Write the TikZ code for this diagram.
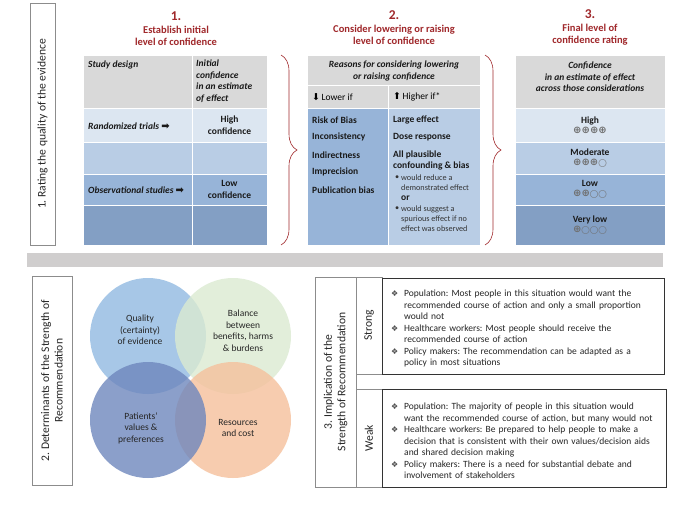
\documentclass[tikz,border=0pt]{standalone}
\usepackage{fontspec}
\setmainfont{Carlito}
\newfontfamily\symfont{DejaVu Sans}
\usetikzlibrary{positioning, calc, decorations.pathreplacing}
\definecolor{titlered}{HTML}{A0282B}
\definecolor{hdrgray}{HTML}{D9D9D9}
\definecolor{blueA}{HTML}{DCE6F1}
\definecolor{blueB}{HTML}{B9CDE5}
\definecolor{blueC}{HTML}{97B4D8}
\definecolor{blueD}{HTML}{839FC4}
\definecolor{framegray}{HTML}{8C8C8C}
\definecolor{bargray}{HTML}{D0CECE}
\definecolor{vennblue}{HTML}{91BAE2}
\definecolor{venngreen}{HTML}{DBEAD1}
\definecolor{venndark}{HTML}{6E87BD}
\definecolor{vennorange}{HTML}{F5C09C}
\definecolor{dotgray}{HTML}{6F6F6F}
\frenchspacing
\newcommand{\tabfont}{\fontsize{9.5}{11.5}\selectfont}
\newcommand{\ttlfont}{\fontsize{10.5}{11.8}\selectfont}
\newcommand{\sidefont}{\fontsize{11.6}{13.5}\selectfont}
\newcommand{\smallfont}{\fontsize{8.2}{10}\selectfont}
\newcommand{\rarr}{{\symfont\fontsize{10}{10}\selectfont ➡}}
\newcommand{\op}{{\fontsize{10}{10}\selectfont ⊕}}
\newcommand{\oc}{{\fontsize{7.6}{10}\selectfont ◯}}
\newcommand{\grd}[1]{{\color{dotgray}\symfont #1}}
\newcommand{\itm}{\par\hangindent=13pt\hangafter=1\noindent\makebox[13pt][l]{\color{black!70}\symfont\fontsize{8}{8}\selectfont ❖}}
\tikzset{
  cell/.style={draw=white, line width=1pt, inner sep=0pt, outer sep=0pt, anchor=north west},
  sidebox/.style={draw=framegray, line width=0.8pt, fill=white, inner sep=0pt, outer sep=0pt, anchor=north west},
  sidetxt/.style={rotate=90, align=center, font=\sidefont, text=black!85},
  txtbox/.style={draw=black!80, line width=1pt, inner sep=0pt, outer sep=0pt, anchor=north west},
  ttlnum/.style={text=titlered, font=\bfseries\fontsize{13.5}{15}\selectfont, inner sep=0pt},
  ttl/.style={text=titlered, font=\bfseries\ttlfont, align=center, inner sep=0pt},
  hd/.style={font=\bfseries\itshape\tabfont, text=black!90, inner sep=0pt},
  bd/.style={font=\bfseries\tabfont, text=black!90, inner sep=0pt},
  sm/.style={font=\smallfont, text=black!80, inner sep=0pt, anchor=west},
  redbrace/.style={decorate, decoration={brace, amplitude=16pt}, draw=titlered, line width=0.6pt},
  venn/.style={circle, minimum size=116, inner sep=0pt, fill opacity=0.8},
  venntxt/.style={align=center, font=\tabfont, text=black!85, inner sep=0pt},
  bullettxt/.style={anchor=north west, text width=274, align=left, inner sep=0pt, font=\tabfont, text=black!85}
}

\begin{document}
\begin{tikzpicture}[x=1pt, y=-1pt]
  \path[use as bounding box, fill=white] (0,0) rectangle (694,506);

  % part 1: rating the quality
  \node[sidebox, minimum width=25, minimum height=242] (rating) at (30,3) {};
  \node[sidetxt] at (rating.center) {1. Rating the quality of the evidence};

  \node[ttlnum] (num1) at (176,16) {1.};
  \node[ttl, below=5pt of num1] (ttl1) {Establish initial\\level of confidence};
  \node[ttlnum] (num2) at (394,15) {2.};
  \node[ttl, below=5pt of num2] (ttl2) {Consider lowering or raising\\level of confidence};
  \node[ttlnum] (num3) at (590,14) {3.};
  \node[ttl, below=5pt of num3] (ttl3) {Final level of\\confidence rating};

  % tables 1 and 3
  \foreach \r/\y/\h/\col in {h/55/53/hdrgray, a/108/34/blueA, b/142/32/blueB, c/174/31/blueC, d/205/40/blueD} {
    \node[cell, fill=\col, minimum width=109, minimum height=\h] (t1a\r) at (83,\y) {};
    \node[cell, fill=\col, minimum width=75, minimum height=\h] (t1b\r) at (192,\y) {};
    \node[cell, fill=\col, minimum width=150, minimum height=\h] (t3\r) at (515,\y) {};
  }
  \node[hd, anchor=west] (sdes) at (88,65) {Study design};
  \node[hd, anchor=north west, align=left] (initc) at (196,60) {Initial\\confidence\\in an estimate\\of effect};
  \node[hd, anchor=west] (rtri) at (88,126) {Randomized trials \rarr};
  \node[bd, align=center] (hconf) at (t1ba.center) {High\\confidence};
  \node[hd, anchor=west] (obst) at (88,190) {Observational studies \rarr};
  \node[bd, align=center] (lconf) at (t1bc.center) {Low\\confidence};

  \node[hd, align=center] (conf) at (590,77) {Confidence\\in an estimate of effect\\across those considerations};
  \foreach \r/\t/\s in {a/High/\op\op\op\op, b/Moderate/\op\op\op\oc, c/Low/\op\op\oc\oc, d/Very low/\op\oc\oc\oc}
    \node[bd, align=center] (lev\r) at (t3\r.center) {\t\\[-1pt]\grd{\s}};

  % table 2
  \node[cell, fill=hdrgray, minimum width=173, minimum height=30] (t2h) at (307,55) {};
  \node[cell, fill=hdrgray, minimum width=81, minimum height=23] (t2la) at (307,85) {};
  \node[cell, fill=hdrgray, minimum width=92, minimum height=23] (t2ha) at (388,85) {};
  \node[cell, fill=blueC, minimum width=81, minimum height=137] (t2lb) at (307,108) {};
  \node[cell, fill=blueB, minimum width=92, minimum height=137] (t2hb) at (388,108) {};

  \node[hd, align=center] (reas) at (394,71) {Reasons for considering lowering\\or raising confidence};
  \node[font=\tabfont, inner sep=0pt, anchor=west] (lowif) at (312,97) {{\symfont\fontsize{9.5}{9.5}\selectfont ⬇}\,Lower if};
  \node[font=\tabfont, inner sep=0pt, anchor=west] (highif) at (393,97) {{\symfont\fontsize{9.5}{9.5}\selectfont ⬆}\,Higher if*};
  \foreach \y/\t [count=\i] in {120/Risk of Bias, 137/Inconsistency, 155/Indirectness, 172/Imprecision, 190/Publication bias}
    \node[bd, anchor=west] (low\i) at (312,\y) {\t};
  \node[bd, anchor=west] (hi1) at (393,120) {Large effect};
  \node[bd, anchor=west] (hi2) at (393,137) {Dose response};
  \node[bd, anchor=west] (hi3) at (393,155) {All plausible};
  \node[bd, anchor=west] (hi4) at (393,166) {confounding \& bias};
  \foreach \y/\t [count=\i] in {178/would reduce a, 187.5/demonstrated effect, 209/would suggest a, 219/spurious effect if no, 229/effect was observed}
    \node[sm] (sub\i) at (401,\y) {\t};
  \node[sm] (bul1) at (395,178) {\textbullet};
  \node[sm] (bul2) at (395,209) {\textbullet};
  \node[bd, anchor=west] (hior) at (401,198) {or};

  \draw[redbrace] ($(t1bh.north east)+(14,0)$) -- ($(t1bd.south east)+(14,0)$);
  \draw[redbrace] ($(t2h.north east)+(5,0)$) -- ($(t2hb.south east)+(5,0)$);

  \node[cell, draw=none, fill=bargray, minimum width=636, minimum height=14] (sepbar) at (27,253) {};

  % part 2: determinants
  \node[sidebox, minimum width=40, minimum height=209] (determ) at (32,276) {};
  \node[sidetxt] at (determ.center) {2. Determinants of the Strength of\\Recommendation};

  \node[venn, fill=vennblue] (qual) at (148,336) {};
  \node[venn, fill=venngreen] (bal) at (233,336) {};
  \node[venn, fill=vennorange] (res) at (233,420) {};
  \node[venn, fill=venndark] (pat) at (148,420) {};
  \node[venntxt] (qualt) at (140,330) {Quality\\(certainty)\\of evidence};
  \node[venntxt] (balt) at (243,330.5) {Balance\\between\\benefits, harms\\\& burdens};
  \node[venntxt] (patt) at (141,428) {Patients’\\values \&\\preferences};
  \node[venntxt] (rest) at (238,428) {Resources\\and cost};

  % part 3: implication
  \node[sidebox, minimum width=41, minimum height=210] (implic) at (315,277) {};
  \node[sidetxt] at (implic.center) {3. Implication of the\\Strength of Recommendation};
  \node[sidebox, minimum width=26, minimum height=97] (strong) at (356,277) {};
  \node[sidetxt] at (strong.center) {Strong};
  \node[sidebox, minimum width=26, minimum height=98] (weak) at (356,389) {};
  \node[sidetxt] at (weak.center) {Weak};
  \node[txtbox, minimum width=282, minimum height=96] (strongbox) at (382,278) {};
  \node[txtbox, minimum width=284, minimum height=98] (weakbox) at (382,389) {};

  \node[bullettxt] (strongtxt) at (391,285) {%
    \itm Population: Most people in this situation would want the\newline recommended course of action and only a small proportion\newline would not
    \itm Healthcare workers: Most people should receive the\newline recommended course of action
    \itm Policy makers: The recommendation can be adapted as a\newline policy in most situations\par};
  \node[bullettxt] (weaktxt) at (391,398) {%
    \itm Population: The majority of people in this situation would\newline want the recommended course of action, but many would not
    \itm Healthcare workers: Be prepared to help people to make a\newline decision that is consistent with their own values/decision aids\newline and shared decision making
    \itm Policy makers: There is a need for substantial debate and\newline involvement of stakeholders\par};

\end{tikzpicture}
\end{document}
